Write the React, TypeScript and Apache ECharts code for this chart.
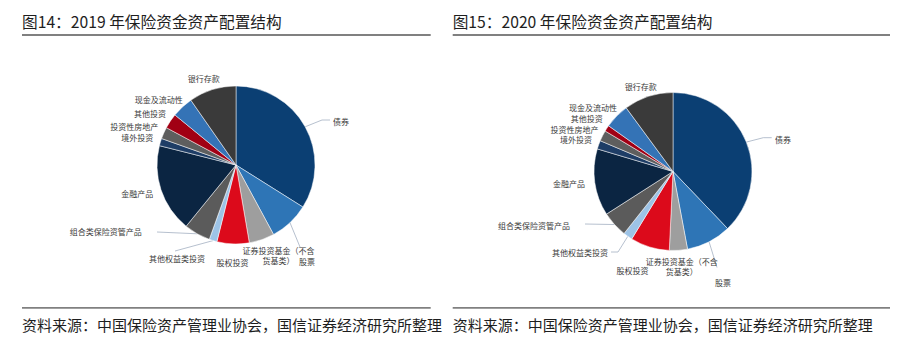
import React, { useEffect, useRef } from "react";
import * as echarts from "echarts";

// ---------- data ----------
const categories = [
  "债券",
  "股票",
  "证券投资基金（不含货基类）",
  "股权投资",
  "其他权益类投资",
  "组合类保险资管产品",
  "金融产品",
  "境外投资",
  "投资性房地产",
  "其他投资",
  "现金及流动性",
  "银行存款",
];
const values2019 = [34.0, 8.2, 5.2, 6.6, 1.6, 5.4, 18.1, 1.5, 2.4, 3.1, 4.4, 9.7];
const values2020 = [37.9, 9.2, 3.7, 8.0, 1.9, 5.3, 13.7, 1.75, 2.2, 1.25, 5.1, 10.1];
const titles = ["图14：2019 年保险资金资产配置结构", "图15：2020 年保险资金资产配置结构"];
const sourceNote = "资料来源：中国保险资产管理业协会，国信证券经济研究所整理";

// ---------- styles ----------
const sliceColors = [
  "#0B3F73", "#2E75B6", "#9E9E9E", "#DC0A1B", "#9DC3E6", "#5B5B5B",
  "#0B2542", "#1E3D66", "#5E5E5E", "#A10014", "#3473B6", "#3A3A3A",
];
const FONT = "'Noto Sans CJK SC', 'Noto Sans', sans-serif";

type Place = { d: [number, number]; align: "left" | "right" | "center"; leader?: [number, number][] };

// label anchor offsets from each pie's centre (layout only)
const place2019: Place[] = [
  { d: [97, -44], align: "left", leader: [[86, -45], [94, -45]] },
  { d: [63, 96], align: "left", leader: [[64, 82]] },
  { d: [42.5, 90], align: "center" },
  { d: [-3.5, 97.7], align: "center" },
  { d: [-31, 93.3], align: "right", leader: [[-61, 86]] },
  { d: [-94.3, 66.7], align: "right", leader: [[-79, 67]] },
  { d: [-82.7, 28.3], align: "right" },
  { d: [-82.7, -27.7], align: "right" },
  { d: [-77.7, -38.3], align: "right" },
  { d: [-70, -51.7], align: "right" },
  { d: [-53.3, -65.7], align: "right" },
  { d: [-32.3, -86.7], align: "center" },
];
const place2020: Place[] = [
  { d: [102, -32.5], align: "left", leader: [[90.3, -33.8], [98.7, -33.8]] },
  { d: [42, 111], align: "left", leader: [[44, 96]] },
  { d: [8.7, 95.2], align: "center" },
  { d: [-40.5, 98.5], align: "center" },
  { d: [-65, 81.2], align: "right", leader: [[-55, 80.5], [-62, 80.5]] },
  { d: [-103, 53.5], align: "right", leader: [[-88, 52.5]] },
  { d: [-88, 11.8], align: "right" },
  { d: [-81, -32.3], align: "right" },
  { d: [-74.5, -42], align: "right" },
  { d: [-70.3, -53], align: "right" },
  { d: [-56, -64.2], align: "right" },
  { d: [-32.2, -85.5], align: "center" },
];

const R = 79;

function makePie(values: number[], center: [number, number], places: Place[]) {
  const total = values.reduce((a, b) => a + b, 0);
  const mids: number[] = [];
  let cum = 0;
  values.forEach((v) => {
    mids.push(((cum + v / 2) / total) * Math.PI * 2);
    cum += v;
  });
  return {
    type: "pie",
    center,
    radius: R,
    startAngle: 90,
    clockwise: true,
    avoidLabelOverlap: false,
    emphasis: { disabled: true },
    itemStyle: { borderColor: "#ffffff", borderWidth: 0.5 },
    label: {
      show: true,
      position: "outside",
      fontSize: 8,
      lineHeight: 8,
      color: "#3a3a3a",
      fontFamily: FONT,
      formatter: (p: any) => String(p.name).replace("（不含", "（不含\n"),
    },
    labelLine: {
      show: false,
      length: 6,
      length2: 0,
      lineStyle: { color: "#A3B0C2", width: 0.8 },
    },
    labelLayout: (p: any) => {
      const pl = places[p.dataIndex];
      const res: any = {
        x: center[0] + pl.d[0],
        y: center[1] + pl.d[1],
        align: pl.align,
        verticalAlign: "middle",
      };
      if (pl.leader) {
        const a = mids[p.dataIndex];
        const start: [number, number] = [center[0] + R * Math.sin(a), center[1] - R * Math.cos(a)];
        res.labelLinePoints = [start, ...pl.leader.map((q) => [center[0] + q[0], center[1] + q[1]])];
      }
      return res;
    },
    data: categories.map((name, i) => ({
      name,
      value: values[i],
      itemStyle: { color: sliceColors[i] },
      labelLine: { show: !!places[i].leader },
      label: name.indexOf("（不含") >= 0 ? { lineHeight: 10 } : undefined,
    })),
  };
}

export default function App() {
  const ref = useRef<HTMLDivElement>(null);
  useEffect(() => {
    if (!ref.current) return;
    const chart = echarts.init(ref.current, null, { renderer: "svg" });
    const lineColor = "#808080";
    const panels = [
      { x0: 22, x1: 430.7 },
      { x0: 452.7, x1: 890 },
    ];
    const graphics: any[] = [];
    panels.forEach((pn, i) => {
      graphics.push({
        type: "text",
        style: { text: titles[i], x: pn.x0, y: 21, fill: "#1e1e1e", fontSize: 15.7, fontFamily: FONT, align: "left", verticalAlign: "middle" },
      });
      graphics.push({ type: "rect", shape: { x: pn.x0, y: 34, width: pn.x1 - pn.x0, height: 2 }, style: { fill: lineColor } });
      graphics.push({ type: "rect", shape: { x: pn.x0, y: 307, width: pn.x1 - pn.x0, height: 1.8 }, style: { fill: lineColor } });
      graphics.push({
        type: "text",
        style: { text: sourceNote, x: pn.x0, y: 324, fill: "#1e1e1e", fontSize: 15, fontFamily: FONT, align: "left", verticalAlign: "middle" },
      });
    });
    chart.setOption({
      animation: false,
      backgroundColor: "#ffffff",
      graphic: graphics,
      series: [
        makePie(values2019, [236, 165], place2019),
        makePie(values2020, [673, 171.5], place2020),
      ],
    });
    return () => chart.dispose();
  }, []);
  return <div ref={ref} style={{ position: "absolute", left: 0, top: 0, width: 909, height: 348 }} />;
}
